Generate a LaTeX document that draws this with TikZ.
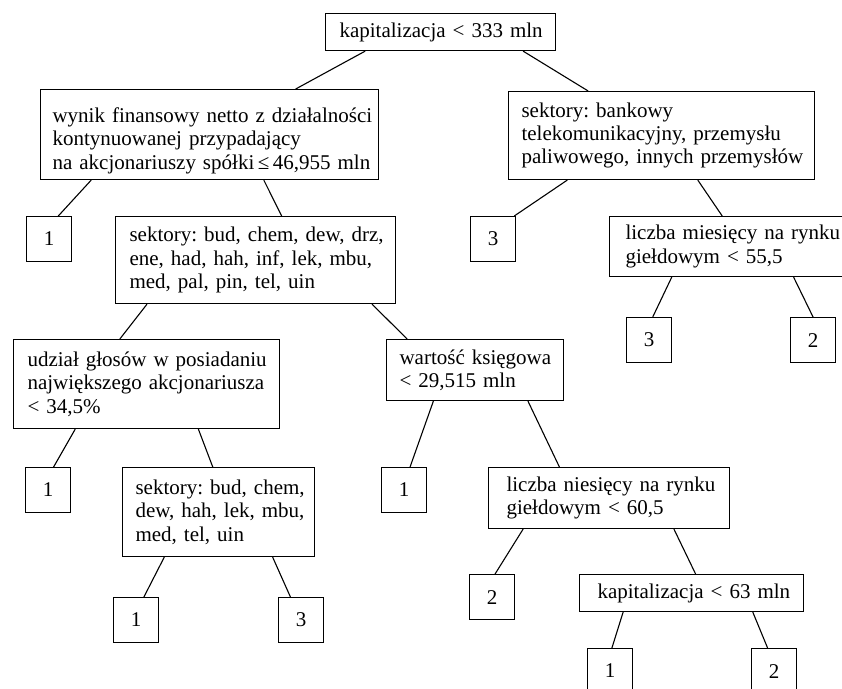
\documentclass[tikz,border=0pt]{standalone}
\usepackage{fontspec}
\setmainfont{Liberation Serif}
\usetikzlibrary{calc}

\begin{document}
\begin{tikzpicture}[x=1pt,y=-1pt,line width=1.1pt,
  split/.style={draw,anchor=north west,inner xsep=0pt,inner ysep=0pt,align=left,
    font=\fontsize{21}{23.3}\selectfont,
    execute at begin node={\frenchspacing\leftskip=#1pt\rightskip=-30pt plus 1fil\relax}},
  split/.default=14,
  leaf/.style={draw,anchor=north west,minimum size=45pt,inner sep=0pt,
    font=\fontsize{21}{23.3}\selectfont}]
  \useasboundingbox (0,0) rectangle (842,688);
  \clip (0,0) rectangle (842,688);

  % splits
  \node[split=14,text width=230pt,minimum height=37pt] (kap) at (325,13) {kapitalizacja < 333 mln};
  \node[split=12,text width=338pt,minimum height=90pt,text height=27pt] (wynik) at (40,89)
    {wynik finansowy netto z działalności\\kontynuowanej przypadający\\na akcjonariuszy spółki\,≤\,46,955 mln};
  \node[split=13,text width=306pt,minimum height=88pt] (bank) at (508,91)
    {sektory: bankowy\\telekomunikacyjny, przemysłu\\paliwowego, innych przemysłów};
  \node[split=14,text width=280pt,minimum height=87pt] (sekt) at (115,216)
    {sektory: bud, chem, dew, drz,\\ene, had, hah, inf, lek, mbu,\\med, pal, pin, tel, uin};
  \node[split=16,text width=245pt,minimum height=60pt] (mies) at (609,216)
    {liczba miesięcy na rynku\\giełdowym < 55,5};
  \node[split=14,text width=266pt,minimum height=89pt] (glos) at (13,339)
    {udział głosów w posiadaniu\\największego akcjonariusza\\< 34,5\%};
  \node[split=13,text width=177pt,minimum height=61pt] (ksieg) at (386,339)
    {wartość księgowa\\< 29,515 mln};
  \node[split=13,text width=192pt,minimum height=89pt] (sektb) at (122,467)
    {sektory: bud, chem,\\dew, hah, lek, mbu,\\med, tel, uin};
  \node[split=18,text width=241pt,minimum height=61pt] (nies) at (488,467)
    {liczba niesięcy na rynku\\giełdowym < 60,5};
  \node[split=18,text width=224pt,minimum height=37pt] (kap63) at (579,574) {kapitalizacja < 63 mln};

  % leaves
  \node[leaf] (wynikL) at (26,216) {1};
  \node[leaf] (bankL) at (470,216) {3};
  \node[leaf] (miesL) at (626,317) {3};
  \node[leaf] (miesR) at (790,317) {2};
  \node[leaf] (glosL) at (25,467) {1};
  \node[leaf] (ksiegL) at (381,467) {1};
  \node[leaf] (sektbL) at (113,597) {1};
  \node[leaf] (sektbR) at (278,597) {3};
  \node[leaf] (niesL) at (469,574) {2};
  \node[leaf] (kapL) at (587,648) {1};
  \node[leaf] (kapR) at (751,648) {2};

  % branches
  \foreach \p/\a/\c/\b in {kap/.174/wynik/.754, kap/.857/bank/.261,
      wynik/.151/wynikL/.70, wynik/.66/sekt/.593,
      bank/.193/bankL/.96, bank/.618/mies/.46,
      mies/.255/miesL/.58, mies/.75/miesR/.5,
      sekt/.114/glos/.40, sekt/.914/ksieg/.119,
      glos/.233/glosL/.62, glos/.694/sektb/.47,
      sektb/.219/sektbL/.67, sektb/.78/sektbR/.27,
      ksieg/.266/ksiegL/.63, ksieg/.797/nies/.295,
      nies/.145/niesL/.565, nies/.768/kap63/.518,
      kap63/.196/kapL/.54, kap63/.772/kapR/.36}
    \draw ($(\p.south west)!\a!(\p.south east)$) -- ($(\c.north west)!\b!(\c.north east)$);
\end{tikzpicture}
\end{document}
